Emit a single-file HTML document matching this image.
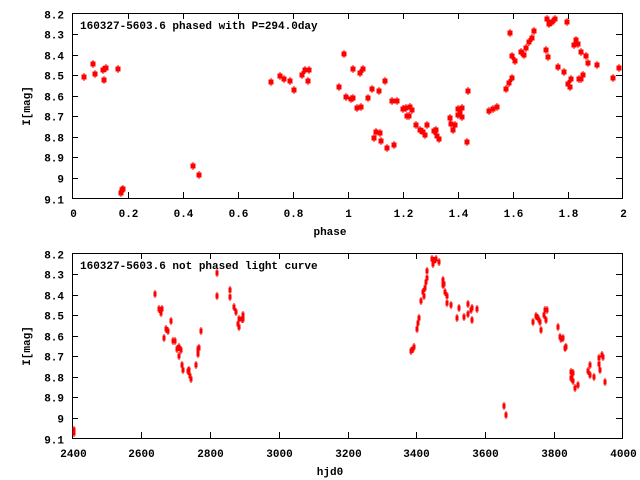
<!DOCTYPE html>
<html><head><meta charset="utf-8"><style>
html,body{margin:0;padding:0;background:#fff;}
svg{display:block;}
text{font-family:"Liberation Mono",monospace;font-weight:bold;font-size:11px;fill:#000;}
</style></head><body>
<svg width="640" height="480" viewBox="0 0 640 480" xmlns="http://www.w3.org/2000/svg">
<g stroke="#000" stroke-width="1" fill="none" shape-rendering="crispEdges">
<rect x="72.5" y="13.5" width="550" height="185"/>
<rect x="72.5" y="253.5" width="550" height="185"/>
</g>
<g id="ticks" stroke="#000" stroke-width="1" shape-rendering="crispEdges"></g>
<g id="labels"></g>
<text x="80" y="29">160327-5603.6 phased with P=294.0day</text>
<text x="80" y="269">160327-5603.6 not phased light curve</text>
<text x="330" y="235" text-anchor="middle">phase</text>
<text x="330" y="475" text-anchor="middle">hjd0</text>
<text transform="translate(30,106) rotate(-90)" text-anchor="middle">I[mag]</text>
<text transform="translate(30,346) rotate(-90)" text-anchor="middle">I[mag]</text>
<g id="pts" fill="#f00" stroke="#f00" shape-rendering="crispEdges"></g>
</svg>
<script>
(function(){
var NS="http://www.w3.org/2000/svg";
var T=document.getElementById('ticks'),L=document.getElementById('labels'),P=document.getElementById('pts');
function ln(x1,y1,x2,y2){var e=document.createElementNS(NS,'line');e.setAttribute('x1',x1);e.setAttribute('y1',y1);e.setAttribute('x2',x2);e.setAttribute('y2',y2);T.appendChild(e);}
function tx(x,y,s,a){var e=document.createElementNS(NS,'text');e.setAttribute('x',x);e.setAttribute('y',y);e.setAttribute('text-anchor',a);e.textContent=s;L.appendChild(e);}
var ylab=['8.2','8.3','8.4','8.5','8.6','8.7','8.8','8.9','9','9.1'];
[13.5,253.5].forEach(function(t0){
 for(var i=0;i<10;i++){var y=Math.round(t0+i*185/9)+0.5;
  if(i>0&&i<9){ln(72,y,78,y);ln(616,y,622,y);}
  tx(64,y+4,ylab[i],'end');}
});
var xl=['0','0.2','0.4','0.6','0.8','1','1.2','1.4','1.6','1.8','2'];
var xb=['2400','2600','2800','3000','3200','3400','3600','3800','4000'];
for(var i=0;i<11;i++){var x=Math.round(72.5+i*55)+0.5;if(i>0&&i<10){ln(x,198,x,192);ln(x,13,x,19);}tx(x,217,xl[i],'middle');}
for(var i=0;i<9;i++){var x=Math.round(72.5+i*68.75)+0.5;if(i>0&&i<8){ln(x,438,x,432);ln(x,253,x,259);}tx(x,457,xb[i],'middle');}
var topPts=[[84,77],[93,64],[95,74],[103,70],[104,80],[106,68],[118,69],[121,193],[122,190],[123,189],[193,166],[199,175],[271,82],[280,76],[284,79],[290,81],[294,90],[302,75],[305,70],[308,81],[309,70],
[339,87],[344,54],[346,97],[351,99],[353,98],[353,69],[357,108],[360,73],[361,107],[363,69],[368,98],[372,89],[374,138],[376,132],[379,91],[380,133],[381,141],[385,81],[387,148],[392,101],[394,145],[397,101],[403,109],[406,108],[407,116],[409,116],[410,107],[412,110],[416,125],[420,130],[423,132],[425,135],[427,125],[434,131],[436,130],[437,136],[439,139],[450,118],[451,124],[453,130],[455,125],[458,109],[458,115],[460,113],[462,108],[462,117],[467,142],[468,91],[489,111],[493,109],[497,107],[506,89],[509,83],[510,33],[512,78],[512,56],[515,61],[521,52],[524,55],[526,48],[529,42],[532,38],[534,31],[546,50],[548,57],[547,19],[549,24],[552,22],[555,19],[558,67],[564,72],[567,22],[568,84],[570,87],[571,79],[574,45],[576,40],[578,44],[579,79],[581,79],[581,52],[583,75],[586,56],[588,63],[597,65],[613,78],[619,68]];
var botPts=[[74,430],[74,433],[155,294],[159,309],[161,313],[162,309],[164,338],[166,329],[168,331],[171,321],[173,341],[175,341],[177,349],[179,356],[179,347],[181,350],[182,365],[183,370],[188,371],[189,370],[190,376],[191,379],[196,365],[198,349],[198,354],[199,348],[201,331],[217,273],[217,296],[230,290],[230,297],[234,307],[236,312],[238,324],[239,327],[239,319],[242,319],[243,315],[243,319],
[411,351],[413,349],[414,347],[417,329],[418,323],[419,318],[421,301],[423,292],[424,296],[425,288],[426,282],[427,278],[427,271],[432,259],[433,264],[434,261],[436,259],[439,262],[443,285],[443,280],[444,284],[445,292],[447,296],[447,303],[451,305],[457,318],[459,308],[464,317],[468,304],[468,314],[471,310],[472,308],[472,320],[477,309],[504,406],[506,415],[533,322],[536,316],[538,318],[539,320],[540,322],[541,330],[544,315],[545,310],[547,310],[546,320],[558,327],[560,337],[561,339],[563,338],[565,348],[566,347],[571,372],[573,373],[571,378],[573,381],[575,388],[578,385],[588,371],[590,365],[590,375],[594,377],[599,358],[599,364],[600,370],[602,355],[603,357],[605,382]];
function pt(x,y,w,h){var r=document.createElementNS(NS,'rect');r.setAttribute('x',x-w/2);r.setAttribute('y',y-h/2);r.setAttribute('width',w);r.setAttribute('height',h);r.setAttribute('stroke','none');P.appendChild(r);
var l=document.createElementNS(NS,'line');l.setAttribute('x1',x);l.setAttribute('x2',x);l.setAttribute('y1',y-h/2-1.5);l.setAttribute('y2',y+h/2+1.5);l.setAttribute('stroke-width',1);P.appendChild(l);}
topPts.forEach(function(p){pt(p[0],p[1],5,5);});
botPts.forEach(function(p){pt(p[0],p[1],3,5);});
})();
</script>
</body></html>
